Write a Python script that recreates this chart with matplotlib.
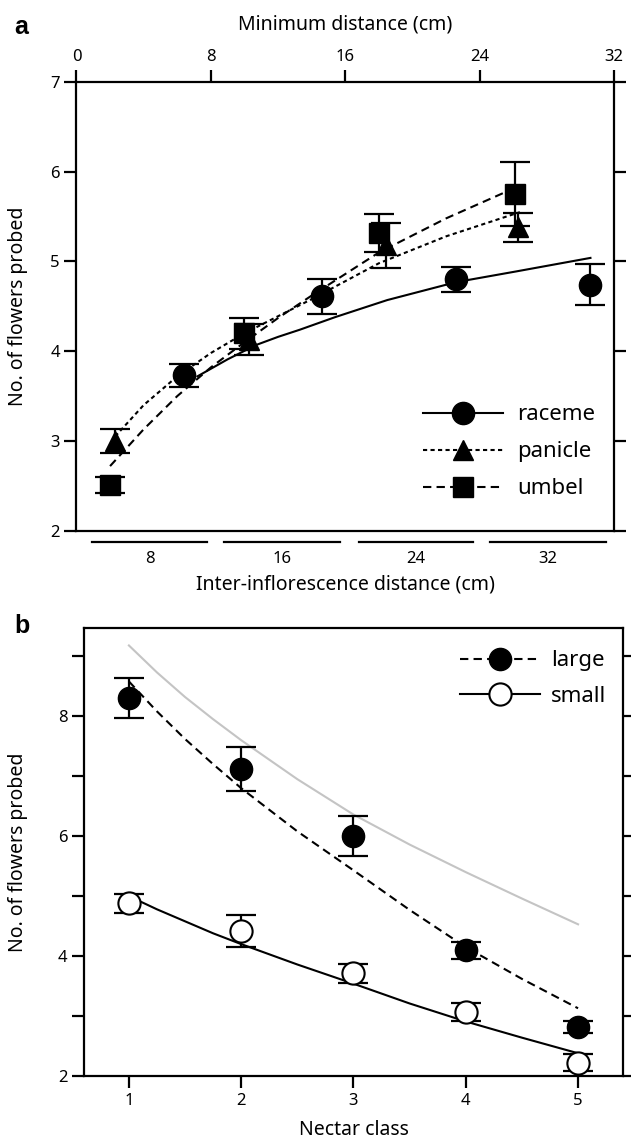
import matplotlib
matplotlib.use("Agg")
import matplotlib.pyplot as plt
import matplotlib.transforms as mtransforms
from matplotlib.lines import Line2D

plt.rcParams['font.family'] = ['Noto Sans', 'DejaVu Sans']

# ---- panel a: flowers probed vs distance, by inflorescence type ----
raceme_x = [6.4, 14.6, 22.6, 30.6]
raceme_y = [3.73, 4.61, 4.80, 4.74]
raceme_err = [0.13, 0.19, 0.14, 0.23]

panicle_x = [2.3, 10.3, 18.4, 26.3]
panicle_y = [3.00, 4.13, 5.18, 5.38]
panicle_err = [0.13, 0.17, 0.25, 0.16]

umbel_x = [2.0, 10.0, 18.0, 26.1]
umbel_y = [2.51, 4.20, 5.32, 5.75]
umbel_err = [0.09, 0.17, 0.21, 0.36]

# fitted curves
raceme_fit_x = [7.2, 9.0, 10.7, 12.0, 13.3, 15.4, 18.5, 22.6, 26.2, 30.6]
raceme_fit_y = [3.72, 3.91, 4.07, 4.16, 4.24, 4.38, 4.57, 4.77, 4.89, 5.04]
panicle_fit_x = [2.3, 4.0, 6.0, 8.0, 10.0, 12.0, 14.0, 18.0, 22.0, 26.4]
panicle_fit_y = [3.05, 3.40, 3.72, 3.98, 4.20, 4.39, 4.58, 4.98, 5.28, 5.55]
umbel_fit_x = [2.0, 4.0, 6.0, 8.0, 10.0, 12.0, 14.0, 18.0, 22.0, 26.1]
umbel_fit_y = [2.72, 3.13, 3.50, 3.82, 4.10, 4.37, 4.62, 5.10, 5.48, 5.82]

# inter-inflorescence distance classes (bars under panel a)
class_labels = ["8", "16", "24", "32"]
class_start = [0.9, 8.8, 16.8, 24.6]
class_end = [7.8, 15.7, 23.6, 31.5]

# ---- panel b: flowers probed vs nectar class ----
nectar_class = [1, 2, 3, 4, 5]
large_y = [8.30, 7.12, 6.00, 4.10, 2.82]
large_err = [0.33, 0.37, 0.33, 0.14, 0.10]
small_y = [4.88, 4.42, 3.71, 3.06, 2.22]
small_err = [0.16, 0.27, 0.16, 0.15, 0.14]

fit_x = [1.0, 1.25, 1.5, 1.75, 2.0, 2.5, 3.0, 3.5, 4.0, 4.5, 5.0]
large_fit = [8.58, 8.08, 7.62, 7.20, 6.80, 6.08, 5.43, 4.77, 4.15, 3.62, 3.13]
small_fit = [5.00, 4.78, 4.58, 4.38, 4.20, 3.86, 3.54, 3.21, 2.91, 2.64, 2.38]
gray_fit = [9.18, 8.73, 8.32, 7.95, 7.60, 6.95, 6.36, 5.86, 5.40, 4.96, 4.53]

DOT = (0, (2, 1.6))
DASH = (0, (4, 2.5))
LW = 1.5

fig = plt.figure(figsize=(6.31, 11.44), dpi=100)


def style_axes(ax):
    for s in ax.spines.values():
        s.set_linewidth(1.6)
    ax.tick_params(direction="out", length=8.5, width=1.6, labelsize=12)


# ---------------- panel a ----------------
ax = fig.add_axes([0.1212, 0.5361, 0.8518, 0.3922])
style_axes(ax)
ax.set_xlim(0, 32)
ax.set_ylim(2, 7)
ax.set_xticks([0, 8, 16, 24, 32])
ax.xaxis.tick_top()
ax.xaxis.set_label_position("top")
ax.set_yticks([2, 3, 4, 5, 6, 7])
ax.tick_params(axis="y", right=True, labelright=False)
ax.set_xlabel("Minimum distance (cm)", fontsize=14, labelpad=14)
ax.set_ylabel("No. of flowers probed", fontsize=14)
ax.yaxis.set_label_coords(-0.09, 0.5)

ax.plot(raceme_fit_x, raceme_fit_y, color="black", lw=LW)
ax.plot(panicle_fit_x, panicle_fit_y, color="black", lw=LW, linestyle=DOT)
ax.plot(umbel_fit_x, umbel_fit_y, color="black", lw=LW, linestyle=DASH)

eb = dict(fmt="none", ecolor="black", elinewidth=1.6, capsize=11, capthick=1.6)
ax.errorbar(raceme_x, raceme_y, yerr=raceme_err, **eb)
ax.errorbar(panicle_x, panicle_y, yerr=panicle_err, **eb)
ax.errorbar(umbel_x, umbel_y, yerr=umbel_err, **eb)
ax.plot(raceme_x, raceme_y, "o", color="black", ms=16, zorder=4)
ax.plot(panicle_x, panicle_y, "^", color="black", ms=15, zorder=4)
ax.plot(umbel_x, umbel_y, "s", color="black", ms=14, zorder=4)

# distance class bars under the axis
trans = mtransforms.blended_transform_factory(ax.transData, ax.transAxes)
for lab, x0, x1 in zip(class_labels, class_start, class_end):
    ax.plot([x0, x1], [-0.025, -0.025], color="black", lw=1.6,
            transform=trans, clip_on=False)
    ax.text((x0 + x1) / 2, -0.045, lab, transform=trans, ha="center",
            va="top", fontsize=12)
ax.text(0.5, -0.098, "Inter-inflorescence distance (cm)", transform=ax.transAxes,
        ha="center", va="top", fontsize=14)

handles_a = [
    Line2D([], [], color="black", lw=LW, marker="o", ms=16),
    Line2D([], [], color="black", lw=LW, linestyle=DOT, marker="^", ms=15),
    Line2D([], [], color="black", lw=LW, linestyle=DASH, marker="s", ms=14),
]
ax.legend(handles_a, ["raceme", "panicle", "umbel"], loc="lower right",
          bbox_to_anchor=(0.985, 0.045), frameon=False, fontsize=16,
          handlelength=3.6, handletextpad=0.6, labelspacing=0.72,
          borderpad=0)

fig.text(0.022, 0.976, "a", fontsize=18, fontweight="bold",
         family="Liberation Sans", va="center")

# ---------------- panel b ----------------
bx = fig.add_axes([0.1331, 0.0594, 0.8542, 0.3916])
style_axes(bx)
bx.set_xlim(0.6, 5.4)
bx.set_ylim(2, 9.47)
bx.set_xticks(nectar_class)
bx.set_yticks([2, 3, 4, 5, 6, 7, 8, 9])
bx.set_yticklabels(["2", "", "4", "", "6", "", "8", ""])
bx.tick_params(axis="y", right=True, labelright=False)
bx.set_xlabel("Nectar class", fontsize=14, labelpad=8)
bx.set_ylabel("No. of flowers probed", fontsize=14)
bx.yaxis.set_label_coords(-0.104, 0.5)

bx.plot(fit_x, gray_fit, color="#c4c4c4", lw=1.5)
bx.plot(fit_x, large_fit, color="black", lw=LW, linestyle=DASH)
bx.plot(fit_x, small_fit, color="black", lw=LW)

bx.errorbar(nectar_class, large_y, yerr=large_err, **eb)
bx.errorbar(nectar_class, small_y, yerr=small_err, **eb)
bx.plot(nectar_class, large_y, "o", color="black", ms=16, zorder=4)
bx.plot(nectar_class, small_y, "o", mfc="white", mec="black", mew=1.5,
        ms=16, zorder=4)

handles_b = [
    Line2D([], [], color="black", lw=LW, linestyle=DASH, marker="o", ms=16),
    Line2D([], [], color="black", lw=LW, marker="o", ms=16, mfc="white",
           mew=1.5),
]
bx.legend(handles_b, ["large", "small"], loc="upper right",
          bbox_to_anchor=(0.99, 0.975), frameon=False, fontsize=16,
          handlelength=3.6, handletextpad=0.5, labelspacing=0.65,
          borderpad=0)

fig.text(0.022, 0.453, "b", fontsize=18, fontweight="bold",
         family="Liberation Sans", va="center")

fig.savefig("out.png", dpi=100)
